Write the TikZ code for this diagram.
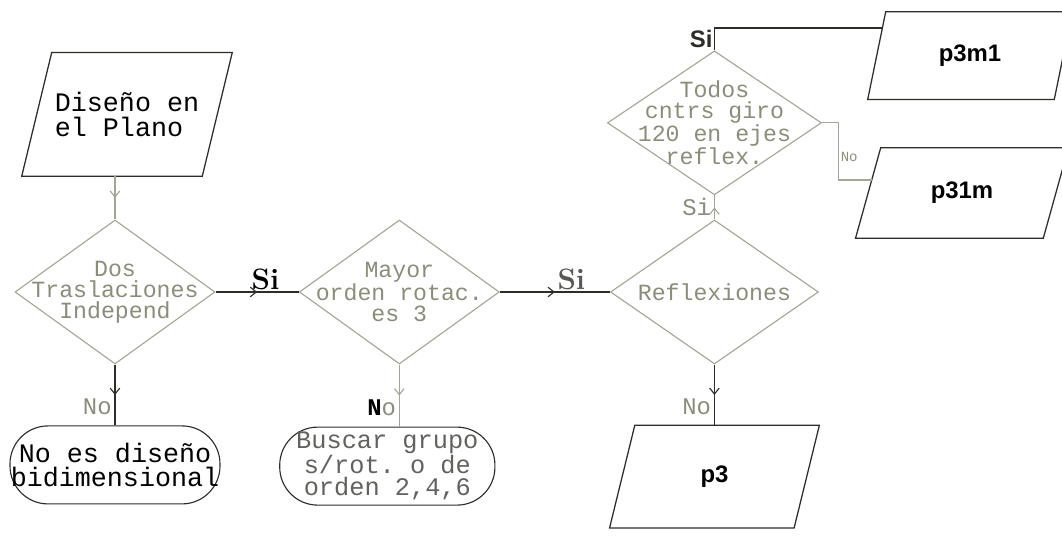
\documentclass[tikz,border=0pt]{standalone}
\usepackage{fontspec}
\setmonofont{Liberation Mono}
\setsansfont{Liberation Sans}
\usetikzlibrary{arrows.meta,positioning,shapes.geometric,calc,decorations.markings}

\definecolor{ink}{RGB}{45,45,40}
\definecolor{pale}{RGB}{165,165,150}
\definecolor{faded}{RGB}{140,140,122}

\begin{document}
\begin{tikzpicture}[
  node distance=1.5cm and 2cm,
  inbox/.style={rectangle, minimum width=4.6cm, minimum height=2.55cm, inner sep=0pt,
    font=\sffamily\bfseries\fontsize{17}{20}\selectfont},
  decision/.style={draw=pale, diamond, minimum width=5cm, minimum height=3.6cm,
    inner sep=0pt, line width=0.8pt},
  dtext/.style={text=faded, align=center, inner sep=0pt,
    font=\ttfamily\fontsize{16.5}{15}\selectfont},
  term/.style={draw=ink, rounded corners=0.95cm, minimum width=5.25cm,
    minimum height=1.95cm, inner sep=0pt, align=center, line width=0.8pt,
    font=\ttfamily\fontsize{19}{17}\selectfont},
  link/.style={line width=0.8pt, postaction={decorate},
    decoration={markings, mark=at position 0.5 with {\arrow{Straight Barb[length=1.5mm,width=2.4mm]}}}},
  yes/.style={inner sep=1pt, font=\bfseries\fontsize{21}{21}\selectfont},
  no/.style={inner sep=2pt, text=faded, font=\ttfamily\fontsize{17}{17}\selectfont}
]
\useasboundingbox (0,0) rectangle (26.55,13.4);
\clip (0,0) rectangle (26.55,13.4);

% main row of decisions
\node[decision, label={[dtext]center:{Dos\\Traslaciones\\Independ}}] (dos) at (2.875,6.1) {};
\node[decision, right=2.08cm of dos, label={[dtext]center:{Mayor\\orden rotac.\\es 3}}] (mayor) {};
\node[decision, right=2.75cm of mayor, minimum width=5.2cm,
  label={[dtext]center:{Reflexiones}}] (refl) {};
\node[decision, above=0.6cm of refl, minimum width=5.35cm,
  label={[dtext]center:{Todos\\cntrs giro\\120 en ejes\\reflex.}}] (todos) {};

% start and ends
\node[inbox, above=1.08cm of dos, xshift=0.3cm, minimum width=4.5cm, minimum height=3.08cm,
  align=left, font=\ttfamily\fontsize{19}{18}\selectfont] (plano) {Diseño en\\el Plano};
\node[term, below=1.52cm of dos] (noes) {No es diseño\\bidimensional};
\node[term, below=1.55cm of mayor, xshift=-0.3cm, minimum width=5.38cm, text=ink!75,
  font=\ttfamily\fontsize{18}{15.5}\selectfont]
  (buscar) {Buscar grupo\\s/rot. o de\\orden 2,4,6};
\node[inbox, below=1.52cm of refl] (p3) {p3};
\node[inbox, minimum width=4.65cm, minimum height=2.18cm] (p3m1) at (24.25,12.01) {p3m1};
\node[inbox, minimum width=4.68cm, minimum height=2.25cm] (p31m) at (24.05,8.575) {p31m};

% slanted outlines of the data boxes
\foreach \n/\s in {plano/0.75, p3/0.63, p3m1/0.45, p31m/0.63}
  \draw[ink, line width=0.9pt] ($(\n.north west)+(\s/2,0)$) -- ($(\n.north east)+(\s/2,0)$)
    -- ($(\n.south east)-(\s/2,0)$) -- ($(\n.south west)-(\s/2,0)$) -- cycle;

\coordinate (into1) at ($(p3m1.west)+(0.14,0.69)$);
\coordinate (into2) at ($(p31m.west)+(0.09,0.325)$);

\draw[link, draw=pale] (dos.north |- plano.south) -- (dos.north);
\draw[link, draw=ink] (dos.east) -- node[yes, pos=0.6, above] {Si} (mayor.west);
\draw[link, draw=ink] (mayor.east) -- node[yes, pos=0.65, above, text=ink!80] {Si} (refl.west);
\draw[link, draw=pale] (refl.north) -- node[no, left] {Si} (todos.south);
\draw[ink, line width=0.9pt] (todos.north) |- node[pos=0.5, anchor=north east, inner sep=1pt,
  font=\sffamily\bfseries\fontsize{17}{17}\selectfont] {Si} (into1);
\draw[pale, line width=0.8pt] (todos.east) -- ++(0.42,0) |- node[pos=0.3, right, inner sep=1pt,
  text=faded, font=\ttfamily\fontsize{10}{10}\selectfont] {No} (into2);
\draw[link, draw=ink] (dos.south) -- node[no, left, pos=0.69] {No} (noes.north);
\draw[link, draw=pale] (mayor.south) -- node[no, left, pos=0.69] {\textcolor{black}{\bfseries N}o}
  (mayor.south |- buscar.north);
\draw[link, draw=ink] (refl.south) -- node[no, left, pos=0.7] {No} (refl.south |- p3.north);
\end{tikzpicture}
\end{document}
